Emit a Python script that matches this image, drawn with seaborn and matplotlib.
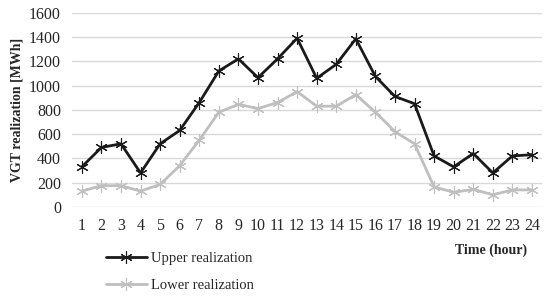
import pandas as pd
import matplotlib
matplotlib.use("Agg")
import matplotlib.pyplot as plt
import seaborn as sns

# Values
hours = list(range(1, 25))
upper = [330, 490, 520, 280, 520, 630, 860, 1120, 1220, 1065, 1220, 1390,
         1060, 1175, 1385, 1075, 910, 850, 420, 330, 440, 280, 420, 430]
lower = [130, 175, 175, 130, 185, 340, 550, 780, 845, 810, 860, 950,
         830, 830, 925, 780, 620, 520, 165, 120, 145, 100, 140, 140]
series_names = ["Upper realization", "Lower realization"]
y_ticks = [0, 200, 400, 600, 800, 1000, 1200, 1400, 1600]

sns.set_style("white")
plt.rcParams["font.family"] = ["Liberation Serif", "DejaVu Serif"]

df = pd.DataFrame({
    "hour": hours * 2,
    "value": upper + lower,
    "series": [series_names[0]] * 24 + [series_names[1]] * 24,
})

fig = plt.figure(figsize=(5.5, 2.96), dpi=100)
ax = fig.add_axes([0.131, 0.301, 0.854, 0.656])

for y in y_ticks:
    ax.axhline(y, color="#d9d9d9", lw=1.0, zorder=0)

sns.lineplot(data=df, x="hour", y="value", hue="series", hue_order=series_names,
             palette=["#1a1a1a", "#bfbfbf"], marker=(6, 2, 0), markersize=9,
             markeredgewidth=0.8, linewidth=2.0, ax=ax, legend=False)
for line, col in zip(ax.lines[-2:], ["#1a1a1a", "#bfbfbf"]):
    line.set_markeredgecolor(col)

ax.set_xlim(0.5, 24.5)
ax.set_ylim(0, 1600)
ax.set_xticks(hours)
ax.set_xticklabels([str(h) for h in hours], fontsize=11.5)
ax.set_yticks(y_ticks)
ax.set_yticklabels([str(v) for v in y_ticks], fontsize=11.5)
ax.tick_params(length=0, pad=8)
ax.set_xlabel("")
ax.set_ylabel("VGT realization [MWh]", fontsize=10, fontweight="bold", labelpad=4)
sns.despine(ax=ax, left=True, bottom=True)

fig.text(527 / 550, 1 - 250 / 296, "Time (hour)", ha="right", va="center",
         fontsize=10, fontweight="bold")

handles = ax.lines[-2:]
fig.legend(handles, series_names, loc="upper left",
           bbox_to_anchor=(100 / 550, 1 - 246 / 296), frameon=False,
           fontsize=10.5, handlelength=2.8, handletextpad=0.3,
           labelspacing=0.95, borderaxespad=0)

fig.savefig("out.png", dpi=100)
